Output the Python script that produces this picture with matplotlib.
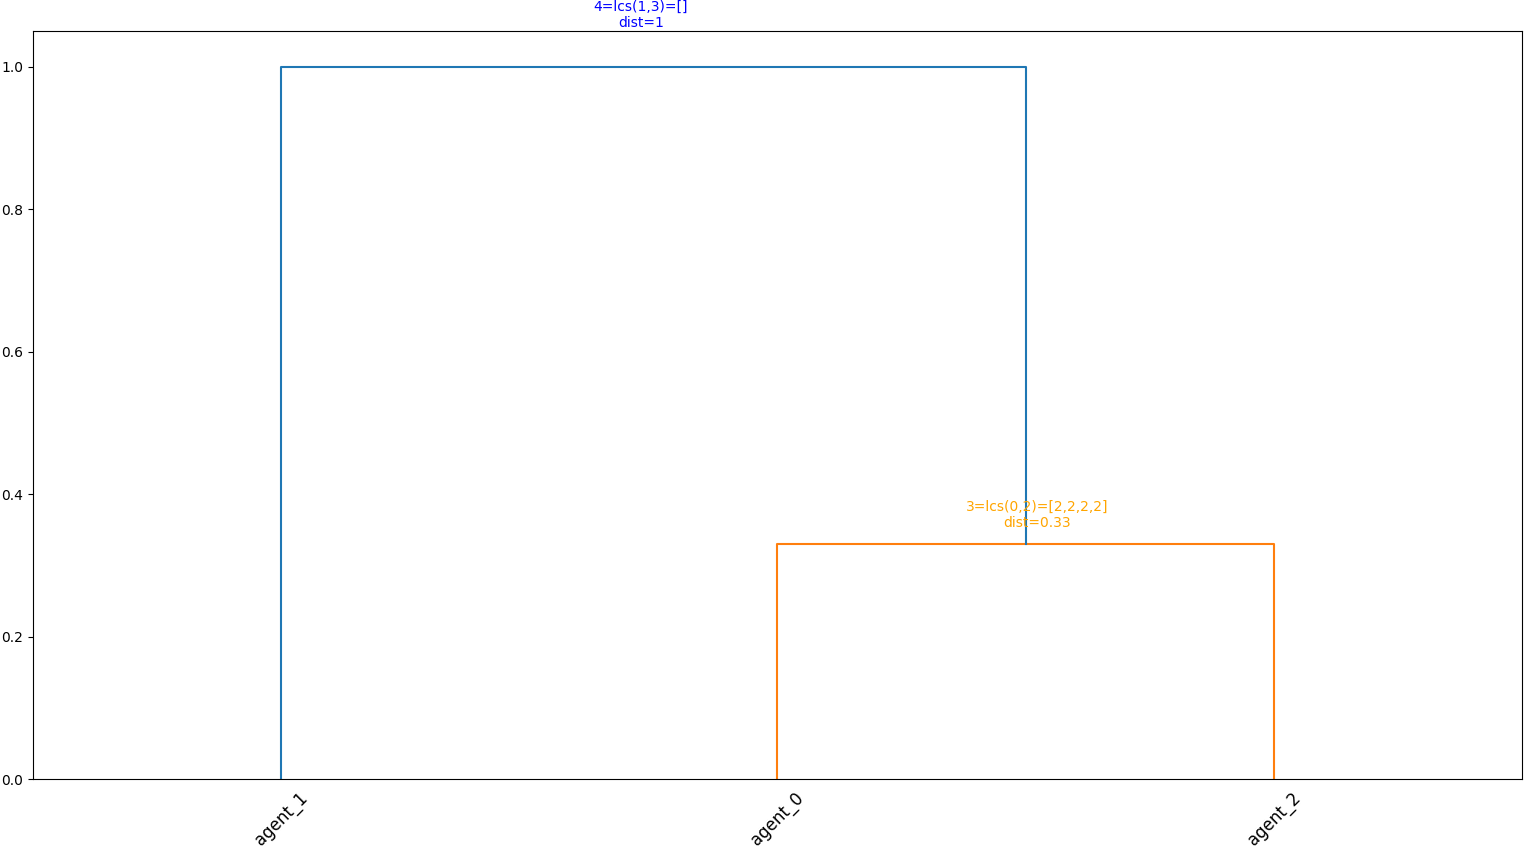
import numpy as np
import matplotlib
matplotlib.use("Agg")
import matplotlib.pyplot as plt

# dendrogram data (scipy-style coordinates: leaves at 5, 15, 25)
leaf_labels = ["agent_1", "agent_0", "agent_2"]
icoord = [[15.0, 15.0, 25.0, 25.0],
          [5.0, 5.0, 20.0, 20.0]]
dcoord = [[0.0, 0.33, 0.33, 0.0],
          [0.0, 1.0, 1.0, 0.33]]
link_colors = ["C1", "C0"]
node_texts = ["3=lcs(0,2)=[2,2,2,2]\ndist=0.33", "4=lcs(1,3)=[]\ndist=1"]
text_colors = ["orange", "blue"]
text_offsets = [(8, 10), (-9, 26)]   # in points

fig = plt.figure(figsize=(15.27, 8.49), dpi=100)
ax = fig.add_axes([0.0216, 0.0824, 0.9751, 0.8811])

for xs, ys, c in zip(icoord, dcoord, link_colors):
    ax.plot(xs, ys, color=c, linewidth=1.5)

for xs, ys, txt, tc, off in zip(icoord, dcoord, node_texts, text_colors, text_offsets):
    xm = 0.5 * (xs[1] + xs[2])
    ax.annotate(txt, (xm, ys[1]), xytext=off, textcoords="offset points",
                ha="center", va="bottom", color=tc, fontsize=10,
                multialignment="center", annotation_clip=False)

n = len(leaf_labels)
ticks = 5 + 10 * np.arange(n)
ax.set_xticks(ticks)
ax.set_xticklabels(leaf_labels, rotation=45, ha="center", fontsize=12)
ax.tick_params(axis="x", length=0, pad=7.5)
ax.set_xlim(0, 10 * n)
ax.set_ylim(0, 1.05)
ax.set_yticks([0.0, 0.2, 0.4, 0.6, 0.8, 1.0])

fig.savefig("out.png", dpi=100)
